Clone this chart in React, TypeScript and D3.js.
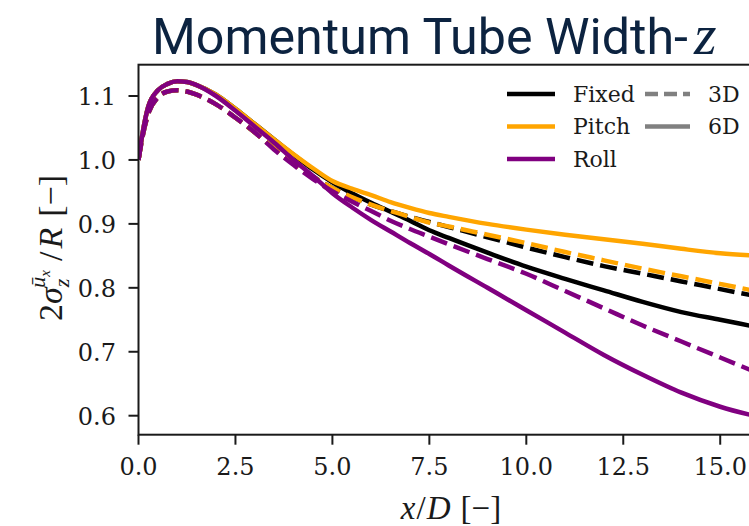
import React from "react";
import * as d3 from "d3";

const xs = [0, 0.1, 0.25, 0.5, 0.75, 1.0, 1.25, 1.5, 2, 2.5, 3, 3.5, 4, 4.5, 5, 5.5, 6, 6.5, 7, 7.5, 8, 9, 10, 11, 12, 13, 14, 15, 16];

const fixed6D = [1.0, 1.04, 1.083, 1.109, 1.119, 1.123, 1.122, 1.117, 1.102, 1.08, 1.056, 1.032, 1.008, 0.985, 0.965, 0.948, 0.933, 0.919, 0.905, 0.89, 0.878, 0.855, 0.833, 0.814, 0.796, 0.778, 0.762, 0.75, 0.738];
const pitch6D = [1.0, 1.04, 1.083, 1.109, 1.119, 1.123, 1.122, 1.117, 1.102, 1.08, 1.056, 1.032, 1.009, 0.987, 0.967, 0.955, 0.945, 0.934, 0.925, 0.917, 0.911, 0.9, 0.891, 0.883, 0.876, 0.869, 0.861, 0.854, 0.85];
const roll6D = [1.0, 1.04, 1.083, 1.109, 1.119, 1.123, 1.122, 1.117, 1.1, 1.077, 1.052, 1.027, 1.0, 0.975, 0.948, 0.926, 0.906, 0.888, 0.87, 0.853, 0.835, 0.8, 0.765, 0.73, 0.695, 0.664, 0.636, 0.614, 0.598];
const fixed3D = [1.0, 1.035, 1.072, 1.098, 1.107, 1.109, 1.107, 1.102, 1.087, 1.066, 1.043, 1.018, 0.995, 0.974, 0.956, 0.942, 0.93, 0.92, 0.911, 0.903, 0.895, 0.879, 0.863, 0.848, 0.834, 0.822, 0.81, 0.798, 0.786];
const pitch3D = [1.0, 1.035, 1.072, 1.098, 1.107, 1.109, 1.107, 1.102, 1.087, 1.066, 1.043, 1.018, 0.995, 0.974, 0.956, 0.942, 0.93, 0.92, 0.911, 0.902, 0.896, 0.883, 0.87, 0.856, 0.843, 0.83, 0.818, 0.806, 0.794];
const roll3D = [1.0, 1.035, 1.072, 1.098, 1.107, 1.109, 1.107, 1.102, 1.087, 1.066, 1.043, 1.016, 0.992, 0.97, 0.951, 0.935, 0.92, 0.905, 0.892, 0.88, 0.868, 0.845, 0.822, 0.795, 0.768, 0.741, 0.716, 0.691, 0.666];

const xTicks = [0, 2.5, 5, 7.5, 10, 12.5, 15];
const yTicks = [0.6, 0.7, 0.8, 0.9, 1.0, 1.1];

const caseNames = ["Fixed", "Pitch", "Roll"];
const caseColors = ["#000000", "#FFA500", "#800080"];
const distNames = ["3D", "6D"];

const series = [
  { name: "Fixed", dist: "3D", values: fixed3D, color: caseColors[0] },
  { name: "Fixed", dist: "6D", values: fixed6D, color: caseColors[0] },
  { name: "Pitch", dist: "3D", values: pitch3D, color: caseColors[1] },
  { name: "Pitch", dist: "6D", values: pitch6D, color: caseColors[1] },
  { name: "Roll", dist: "3D", values: roll3D, color: caseColors[2] },
  { name: "Roll", dist: "6D", values: roll6D, color: caseColors[2] },
];

export default function App() {
  const W = 749, H = 526;
  const left = 138.5, right = 759, top = 64.7, bottom = 434.7;
  const x = d3.scaleLinear().domain([0, 16]).range([left, right]);
  const y = d3.scaleLinear().domain([0.6, 1.1]).range([415.7, 96]);
  const line = d3.line<number>()
    .x((_, i) => x(xs[i]))
    .y((d) => y(d))
    .curve(d3.curveMonotoneX);
  const dash = "17,7";
  const serif = "'DejaVu Serif', serif";
  const math = "'Liberation Serif', 'DejaVu Serif', serif";
  const axisColor = "#1a1a1a";
  const lx0 = 507, lx1 = 555;
  const ly = [94, 126.5, 159];

  return (
    <svg width={W} height={H} style={{ display: "block", position: "absolute", left: 0, top: 0 }}>
      <rect width={W} height={H} fill="#fff" />
      <defs>
        <clipPath id="plotclip">
          <rect x={left} y={top} width={right - left} height={bottom - top} />
        </clipPath>
      </defs>
      {/* Title */}
      <text x={152} y={53.5} fill="#0c2340" fontFamily="Roboto, 'Noto Sans', sans-serif" fontSize={50}
        textLength={536} lengthAdjust="spacingAndGlyphs">Momentum Tube Width-</text>
      <text x={694} y={53.5} fill="#0c2340" fontFamily={math} fontStyle="italic" fontSize={58}>z</text>

      {/* lines */}
      <g clipPath="url(#plotclip)">
        {series.map((s, i) => (
          <path key={i} d={line(s.values) || ""} fill="none" stroke={s.color} strokeWidth={4.5}
            strokeDasharray={s.dist === "3D" ? dash : undefined} strokeLinejoin="round" />
        ))}
      </g>

      {/* axes frame */}
      <rect x={left} y={top} width={right - left} height={bottom - top} fill="none" stroke={axisColor} strokeWidth={2} />

      {/* x ticks */}
      {xTicks.map((t) => (
        <g key={"x" + t}>
          <line x1={x(t)} x2={x(t)} y1={bottom} y2={bottom + 10} stroke={axisColor} strokeWidth={2} />
          <text x={x(t)} y={475} textAnchor="middle" fontFamily={serif} fontSize={24} fill="#1a1a1a">{t.toFixed(1)}</text>
        </g>
      ))}
      {/* y ticks */}
      {yTicks.map((t) => (
        <g key={"y" + t}>
          <line x1={left - 10} x2={left} y1={y(t)} y2={y(t)} stroke={axisColor} strokeWidth={2} />
          <text x={116} y={y(t) + 9} textAnchor="end" fontFamily={serif} fontSize={24} fill="#1a1a1a">{t.toFixed(1)}</text>
        </g>
      ))}

      {/* x label */}
      <text x={451} y={519} textAnchor="middle" fontFamily={math} fontSize={33} fill="#1a1a1a">
        <tspan fontStyle="italic">x</tspan><tspan dx={1}>/</tspan><tspan fontStyle="italic" dx={1}>D</tspan><tspan dx={10}>[−]</tspan>
      </text>

      {/* y label */}
      <g transform="translate(62,248) rotate(-90)">
        <text x={0} y={0} textAnchor="middle" fontFamily={math} fontSize={34} fill="#1a1a1a">
          <tspan>2</tspan>
          <tspan fontStyle="italic">σ</tspan>
          <tspan fontStyle="italic" fontSize={22} dy={7}>z</tspan>
          <tspan fontStyle="italic" fontSize={22} dx={-9} dy={-24}>ū</tspan>
          <tspan fontStyle="italic" fontSize={15} dy={5}>x</tspan>
          <tspan dx={9} dy={12}>/</tspan>
          <tspan fontStyle="italic" dx={3}>R</tspan>
          <tspan dx={11}>[−]</tspan>
        </text>
      </g>

      {/* legend */}
      {caseNames.map((n, i) => (
        <g key={n}>
          <line x1={lx0} x2={lx1} y1={ly[i]} y2={ly[i]} stroke={caseColors[i]} strokeWidth={4.5} />
          <text x={573} y={ly[i] + 7.5} fontFamily={serif} fontSize={22} fill="#1a1a1a">{n}</text>
        </g>
      ))}
      {distNames.map((n, i) => (
        <g key={n}>
          <line x1={645} x2={690} y1={ly[i]} y2={ly[i]} stroke="#808080" strokeWidth={4.5}
            strokeDasharray={n === "3D" ? "13,6" : undefined} />
          <text x={708} y={ly[i] + 7.5} fontFamily={serif} fontSize={22} fill="#1a1a1a">{n}</text>
        </g>
      ))}
    </svg>
  );
}
